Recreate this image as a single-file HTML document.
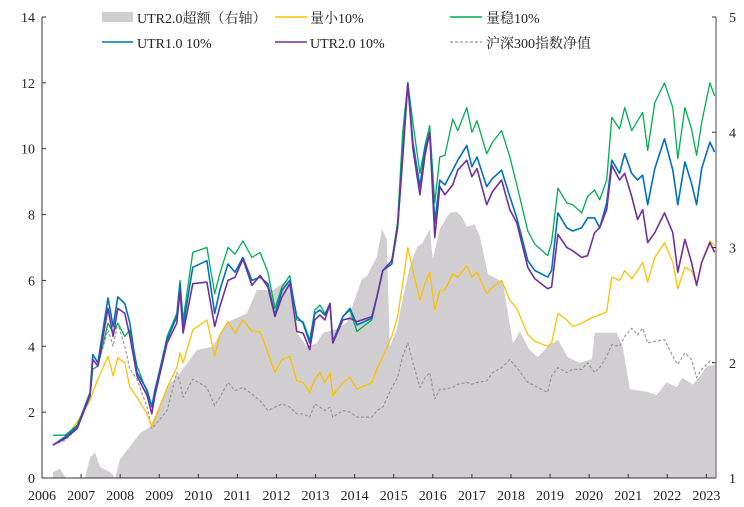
<!DOCTYPE html>
<html><head><meta charset="utf-8"><style>
body{margin:0;background:#fff}
svg{display:block}
text{font-family:"Liberation Serif","Noto Serif CJK SC",serif;font-size:14px;fill:#222}
</style></head><body>
<svg id="chart" width="744" height="507" viewBox="0 0 744 507" xmlns="http://www.w3.org/2000/svg">
<g id="area-layer"></g>
<g id="line-layer"></g>
<g id="axis-layer"></g>
<g id="legend">
  <rect x="102" y="12" width="31" height="10" fill="#d0ced0"/>
  <text x="137" y="23">UTR2.0超额（右轴）</text>
  <line x1="275" y1="17" x2="307" y2="17" stroke="#ffc000" stroke-width="1.5"/>
  <text x="310" y="23">量小10%</text>
  <line x1="450" y1="17" x2="482" y2="17" stroke="#00b050" stroke-width="1.5"/>
  <text x="486" y="23">量稳10%</text>
  <line x1="102" y1="42" x2="133" y2="42" stroke="#0070c0" stroke-width="1.5"/>
  <text x="137" y="48">UTR1.0 10%</text>
  <line x1="275" y1="42" x2="307" y2="42" stroke="#7030a0" stroke-width="1.5"/>
  <text x="310" y="48">UTR2.0 10%</text>
  <line x1="450" y1="42" x2="482" y2="42" stroke="#999" stroke-width="1.2" stroke-dasharray="3,2"/>
  <text x="486" y="48">沪深300指数净值</text>
</g>
</svg>
<script>
const dates=[2006.28,2006.59,2006.90,2007.23,2007.30,2007.43,2007.69,2007.82,2007.94,2008.12,2008.25,2008.43,2008.69,2008.81,2008.89,2009.20,2009.45,2009.53,2009.61,2009.86,2010.22,2010.42,2010.55,2010.76,2010.94,2011.14,2011.37,2011.58,2011.78,2011.96,2012.14,2012.34,2012.52,2012.68,2012.85,2012.98,2013.11,2013.24,2013.37,2013.44,2013.70,2013.88,2014.06,2014.44,2014.57,2014.72,2014.95,2015.10,2015.23,2015.36,2015.49,2015.67,2015.80,2015.92,2016.05,2016.18,2016.31,2016.51,2016.64,2016.87,2017.00,2017.13,2017.38,2017.53,2017.76,2017.97,2018.15,2018.43,2018.61,2018.94,2019.04,2019.20,2019.43,2019.58,2019.81,2019.96,2020.14,2020.27,2020.45,2020.58,2020.78,2020.91,2021.09,2021.24,2021.37,2021.50,2021.68,2021.93,2022.14,2022.27,2022.45,2022.62,2022.75,2022.88,2023.09,2023.21];
const utr1=[1.0,1.25,1.56,2.6,3.75,3.5,5.47,4.6,5.5,5.3,4.7,3.2,2.67,2.16,2.67,4.2,4.9,5.9,4.6,6.4,6.6,5.0,5.7,6.5,6.25,6.7,6.0,6.1,5.9,4.95,5.7,6.0,4.9,4.7,4.1,5.0,5.1,4.95,5.3,4.13,4.9,5.15,4.65,4.85,5.5,6.3,6.5,7.6,9.9,12.0,10.2,8.85,10.0,10.5,7.75,9.05,8.9,9.35,9.65,10.1,9.45,9.75,8.85,9.1,9.35,8.55,7.9,6.6,6.3,6.1,6.3,8.05,7.6,7.5,7.6,7.9,7.9,7.6,8.35,9.65,9.25,9.85,9.25,9.05,9.2,8.3,9.4,10.3,9.35,8.3,9.6,8.95,8.3,9.4,10.2,9.9];
const stable=[1.3,1.3,1.6,2.5,3.3,3.4,4.7,4.4,4.7,4.3,4.5,3.4,2.6,2.2,2.6,4.3,5.0,6.0,4.8,6.85,7.0,5.6,6.2,7.0,6.8,7.2,6.7,6.85,6.25,5.15,5.8,6.15,4.8,4.75,4.2,5.1,5.25,5.0,5.25,4.15,4.9,5.1,4.45,4.8,5.5,6.3,6.6,7.8,10.5,12.0,10.8,9.25,10.1,10.7,8.35,9.75,9.8,10.9,10.55,11.25,10.5,10.85,9.85,10.2,10.55,9.75,8.9,7.5,7.1,6.75,7.15,8.8,8.35,8.3,8.05,8.55,8.75,8.45,9.05,10.95,10.6,11.25,10.55,10.85,11.1,9.95,11.4,12.0,11.25,9.7,11.25,10.6,9.8,10.8,12.0,11.6];
const utr2=[1.0,1.2,1.5,2.5,3.6,3.4,5.15,4.3,5.15,5.0,4.3,3.1,2.5,1.95,2.5,4.1,4.7,5.7,4.4,5.9,5.95,4.6,5.2,6.0,6.1,6.65,5.85,6.15,5.8,4.9,5.5,5.9,4.45,4.4,3.9,4.8,4.95,4.8,5.3,4.1,4.8,4.85,4.75,4.9,5.5,6.3,6.6,7.6,9.7,12.0,10.0,8.6,9.8,10.5,7.3,8.85,8.6,8.9,9.35,9.65,9.15,9.4,8.3,8.7,9.05,8.15,7.75,6.4,6.05,5.75,5.8,7.4,7.0,6.9,6.7,6.75,7.45,7.6,8.15,9.5,9.05,9.25,8.55,7.85,8.15,7.15,7.45,8.05,7.45,6.25,7.25,6.55,5.85,6.55,7.15,6.85];
const small=[1.0,1.2,1.7,2.35,2.6,3.0,3.7,3.1,3.65,3.5,2.75,2.45,1.95,1.55,1.75,2.75,3.35,3.8,3.5,4.5,4.8,3.7,4.35,4.75,4.4,4.8,4.45,4.45,3.8,3.2,3.6,3.7,2.95,2.9,2.6,3.0,3.2,2.9,3.2,2.5,2.9,3.05,2.7,2.9,3.3,3.7,4.3,4.9,5.9,7.0,6.3,5.4,5.9,6.25,5.1,5.7,5.7,6.2,6.1,6.45,6.1,6.25,5.6,5.8,6.0,5.4,5.15,4.35,4.15,4.0,4.1,5.0,4.8,4.6,4.7,4.8,4.9,4.95,5.05,6.1,6.0,6.3,6.05,6.3,6.55,5.95,6.7,7.15,6.55,5.75,6.4,6.3,5.9,6.55,7.2,7.05];
const csi300=[1.0,1.15,1.5,2.5,3.3,3.4,4.5,4.0,4.7,4.0,3.3,3.0,2.15,1.5,1.6,2.05,3.2,2.9,2.45,3.0,2.75,2.2,2.45,2.9,2.65,2.75,2.55,2.35,2.05,2.15,2.25,2.15,1.95,1.95,1.85,2.25,2.15,2.05,2.15,1.85,2.05,2.0,1.85,1.85,2.05,2.15,2.75,3.05,3.7,4.1,3.5,2.75,3.05,3.2,2.4,2.7,2.7,2.75,2.85,2.9,2.85,2.9,2.95,3.2,3.35,3.6,3.35,2.9,2.8,2.6,3.1,3.35,3.2,3.3,3.3,3.5,3.2,3.35,3.7,4.05,4.0,4.3,4.55,4.35,4.55,4.1,4.15,4.2,3.7,3.45,3.8,3.6,3.05,3.3,3.55,3.5];
const areaDates=[2006.28,2006.46,2006.61,2007.10,2007.23,2007.36,2007.48,2007.79,2007.87,2007.99,2008.51,2008.76,2009.20,2009.53,2009.96,2010.37,2010.73,2011.06,2011.24,2011.50,2011.91,2012.29,2012.52,2012.78,2013.03,2013.19,2013.54,2013.80,2014.18,2014.31,2014.57,2014.70,2014.82,2014.90,2015.08,2015.21,2015.41,2015.59,2015.74,2015.92,2016.00,2016.18,2016.43,2016.61,2016.74,2016.87,2017.07,2017.20,2017.41,2017.79,2018.05,2018.23,2018.48,2018.69,2018.94,2019.20,2019.45,2019.76,2020.07,2020.14,2020.53,2020.71,2020.86,2021.04,2021.47,2021.73,2021.98,2022.24,2022.39,2022.65,2022.83,2023.01,2023.21];
const areaValues=[1.05,1.08,1.0,1.0,1.18,1.22,1.1,1.04,1.0,1.16,1.39,1.44,1.79,1.91,2.11,2.14,2.35,2.4,2.43,2.63,2.63,2.72,2.26,2.14,2.17,2.26,2.29,2.35,2.72,2.75,2.92,3.16,3.07,2.14,2.29,2.52,2.83,3.0,3.04,3.16,2.9,3.16,3.3,3.31,3.27,3.18,3.2,3.1,2.77,2.7,2.17,2.27,2.11,2.05,2.14,2.2,2.05,2.0,2.03,2.26,2.26,2.26,2.14,1.77,1.75,1.72,1.83,1.79,1.87,1.81,1.88,1.97,1.98];
const yearTicks=[2006,2007,2008,2009,2010,2011,2012,2013,2014,2015,2016,2017,2018,2019,2020,2021,2022,2023];
const leftTicks=[0,2,4,6,8,10,12,14];
const rightTicks=[1,2,3,4,5];

const NS="http://www.w3.org/2000/svg";
const X0=42,X1=716,YB=478,YT=17;
const xS=y=>X0+(y-2006)*39.08;
const yL=v=>YB-(v/14)*(YB-YT);
const yR=v=>YB-((v-1)/4)*(YB-YT);
function mk(tag,attrs,parent){const e=document.createElementNS(NS,tag);for(const k in attrs)e.setAttribute(k,attrs[k]);parent.appendChild(e);return e;}

const areaLayer=document.getElementById('area-layer');
let d='M'+xS(areaDates[0]).toFixed(1)+','+YB;
areaDates.forEach((t,i)=>{d+=' L'+xS(t).toFixed(1)+','+yR(areaValues[i]).toFixed(1);});
d+=' L'+X1+','+yR(areaValues[areaValues.length-1]).toFixed(1)+' L'+X1+','+YB+' Z';
const ar=mk('path',{d:d,fill:'#d0ced0'},areaLayer);



const lineLayer=document.getElementById('line-layer');
function line(vals,color,w,dash,name){
  const p=dates.map((t,i)=>xS(t).toFixed(1)+','+yL(vals[i]).toFixed(1)).join(' ');
  const a={points:p,fill:'none',stroke:color,'stroke-width':w,'stroke-linejoin':'round'};
  if(dash)a['stroke-dasharray']=dash;
  const el=mk('polyline',a,lineLayer);
  
  
}
line(csi300,'#999',1.2,'3,2','csi300-line');
line(small,'#ffc000',1.3,null,'small-10-line');
line(stable,'#00b050',1.3,null,'stable-10-line');
line(utr1,'#0070c0',1.6,null,'utr1-10-line');
line(utr2,'#7030a0',1.6,null,'utr2-10-line');

const ax=document.getElementById('axis-layer');
const a1=mk('line',{x1:X0,y1:YT,x2:X0,y2:YB,stroke:'#333','stroke-width':1},ax);


const a2=mk('line',{x1:X1,y1:YT,x2:X1,y2:YB,stroke:'#888','stroke-width':1.5},ax);


const a3=mk('line',{x1:X0,y1:YB,x2:X1,y2:YB,stroke:'#333','stroke-width':1},ax);


leftTicks.forEach(v=>{
  mk('line',{x1:X0,y1:yL(v),x2:X0+4,y2:yL(v),stroke:'#333'},ax);
  const t=mk('text',{x:X0-7,y:yL(v)+5,'text-anchor':'end'},ax);t.textContent=v;
  
  
});
rightTicks.forEach(v=>{
  mk('line',{x1:X1-4,y1:yR(v),x2:X1,y2:yR(v),stroke:'#333'},ax);
  const t=mk('text',{x:X1+13,y:yR(v)+5},ax);t.textContent=v;
  
  
});
yearTicks.forEach(v=>{
  mk('line',{x1:xS(v),y1:YB,x2:xS(v),y2:YB-4,stroke:'#333'},ax);
  const t=mk('text',{x:xS(v),y:500,'text-anchor':'middle'},ax);t.textContent=v;
  
  
});
</script>
</body></html>
